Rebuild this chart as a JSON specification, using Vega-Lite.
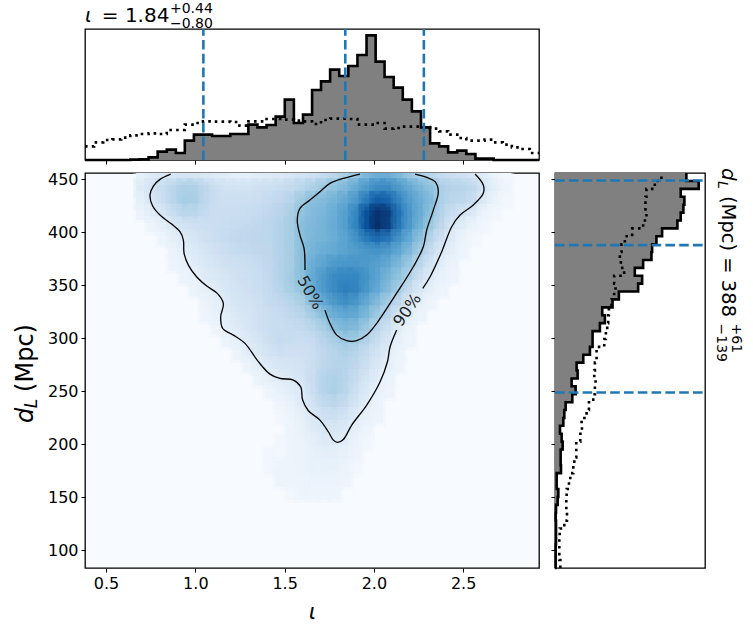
{
"$schema":"https://vega.github.io/schema/vega-lite/v6.json",
"background":"white",
"padding":{"left":13,"top":1,"right":5,"bottom":5},
"columns":2,
"bounds":"flush",
"spacing":{"row":13,"column":16},
"config":{
 "font":"DejaVu Sans",
 "view":{"stroke":"#000","strokeWidth":1.3},
 "axis":{"grid":false,"domain":false,"tickColor":"#000","tickSize":4,"tickWidth":1,"labelColor":"#000","labelFontSize":16,"labelPadding":3,"labelFlush":false,"labelFont":"DejaVu Sans","titleFont":"DejaVu Sans","titleColor":"#000"}
},
"datasets":{
"iota":[
{"i":0.382,"post":0,"prior":41},{"i":0.433,"post":0,"prior":53},{"i":0.484,"post":0,"prior":60},{"i":0.535,"post":0,"prior":62},{"i":0.585,"post":0,"prior":67},{"i":0.636,"post":1,"prior":74},{"i":0.687,"post":2,"prior":78},{"i":0.738,"post":8,"prior":80},{"i":0.789,"post":25,"prior":78},{"i":0.84,"post":31,"prior":90},{"i":0.891,"post":21,"prior":90},{"i":0.941,"post":58,"prior":106},{"i":0.992,"post":76,"prior":111},{"i":1.043,"post":76,"prior":116},{"i":1.094,"post":72,"prior":115},{"i":1.145,"post":72,"prior":115},{"i":1.196,"post":78,"prior":114},{"i":1.247,"post":78,"prior":103},{"i":1.297,"post":106,"prior":116},{"i":1.348,"post":98,"prior":116},{"i":1.399,"post":105,"prior":123},{"i":1.45,"post":130,"prior":123},{"i":1.501,"post":181,"prior":121},{"i":1.552,"post":111,"prior":118},{"i":1.603,"post":136,"prior":116},{"i":1.654,"post":210,"prior":108},{"i":1.704,"post":236,"prior":120},{"i":1.755,"post":271,"prior":124},{"i":1.806,"post":252,"prior":124},{"i":1.857,"post":282,"prior":123},{"i":1.908,"post":315,"prior":106},{"i":1.959,"post":374,"prior":106},{"i":2.01,"post":295,"prior":111},{"i":2.06,"post":249,"prior":94},{"i":2.111,"post":217,"prior":96},{"i":2.162,"post":181,"prior":100},{"i":2.213,"post":146,"prior":100},{"i":2.264,"post":98,"prior":99},{"i":2.315,"post":50,"prior":94},{"i":2.366,"post":41,"prior":86},{"i":2.416,"post":23,"prior":76},{"i":2.467,"post":28,"prior":66},{"i":2.518,"post":18,"prior":58},{"i":2.569,"post":4,"prior":58},{"i":2.62,"post":4,"prior":61},{"i":2.671,"post":0,"prior":53},{"i":2.722,"post":0,"prior":46},{"i":2.773,"post":0,"prior":38},{"i":2.823,"post":0,"prior":33},{"i":2.874,"post":0,"prior":21},{"i":2.925,"post":0,"prior":21}
],
"dist":[
{"d":83.3,"post":0,"prior":16},{"d":90.8,"post":2,"prior":16},{"d":98.2,"post":2,"prior":13},{"d":105.7,"post":2,"prior":13},{"d":113.1,"post":3,"prior":13},{"d":120.6,"post":3,"prior":14},{"d":128.0,"post":3,"prior":28},{"d":135.5,"post":2,"prior":36},{"d":142.9,"post":3,"prior":34},{"d":150.4,"post":8,"prior":34},{"d":157.9,"post":10,"prior":35},{"d":165.3,"post":5,"prior":42},{"d":172.8,"post":5,"prior":46},{"d":180.2,"post":18,"prior":55},{"d":187.7,"post":17,"prior":58},{"d":195.1,"post":17,"prior":64},{"d":202.6,"post":23,"prior":64},{"d":210.0,"post":20,"prior":76},{"d":217.5,"post":15,"prior":81},{"d":224.9,"post":25,"prior":80},{"d":232.4,"post":28,"prior":95},{"d":239.8,"post":32,"prior":102},{"d":247.3,"post":52,"prior":115},{"d":254.8,"post":62,"prior":120},{"d":262.2,"post":50,"prior":122},{"d":269.7,"post":68,"prior":118},{"d":277.1,"post":65,"prior":120},{"d":284.6,"post":85,"prior":125},{"d":292.0,"post":105,"prior":125},{"d":299.5,"post":113,"prior":148},{"d":306.9,"post":113,"prior":153},{"d":314.4,"post":135,"prior":157},{"d":321.8,"post":150,"prior":160},{"d":329.3,"post":142,"prior":162},{"d":336.8,"post":173,"prior":170},{"d":344.2,"post":192,"prior":178},{"d":351.7,"post":250,"prior":182},{"d":359.1,"post":262,"prior":178},{"d":366.6,"post":240,"prior":208},{"d":374.0,"post":265,"prior":198},{"d":381.5,"post":290,"prior":195},{"d":388.9,"post":292,"prior":200},{"d":396.4,"post":305,"prior":210},{"d":403.8,"post":322,"prior":232},{"d":411.3,"post":368,"prior":265},{"d":418.7,"post":378,"prior":275},{"d":426.2,"post":386,"prior":272},{"d":433.7,"post":389,"prior":272},{"d":441.1,"post":378,"prior":275},{"d":448.6,"post":432,"prior":300},{"d":456.1,"post":395,"prior":320}
],
"contours":[
{"s":"90a","n":1,"i":0.862,"d":455.1},{"s":"90a","n":2,"i":0.802,"d":450.1},{"s":"90a","n":3,"i":0.765,"d":443.8},{"s":"90a","n":4,"i":0.746,"d":435.3},{"s":"90a","n":5,"i":0.761,"d":424.9},{"s":"90a","n":6,"i":0.802,"d":416.4},{"s":"90a","n":7,"i":0.867,"d":407.9},{"s":"90a","n":8,"i":0.914,"d":400.7},{"s":"90a","n":9,"i":0.933,"d":392.8},{"s":"90a","n":10,"i":0.937,"d":380.2},{"s":"90a","n":11,"i":0.961,"d":369.2},{"s":"90a","n":12,"i":1.007,"d":358.2},{"s":"90a","n":13,"i":1.064,"d":349.4},{"s":"90a","n":14,"i":1.123,"d":342.5},{"s":"90a","n":15,"i":1.157,"d":333.0},{"s":"90a","n":16,"i":1.142,"d":320.4},{"s":"90a","n":17,"i":1.153,"d":309.4},{"s":"90a","n":18,"i":1.213,"d":303.1},{"s":"90a","n":19,"i":1.278,"d":295.3},{"s":"90a","n":20,"i":1.353,"d":278.0},{"s":"90a","n":21,"i":1.418,"d":266.3},{"s":"90a","n":22,"i":1.474,"d":262.2},{"s":"90a","n":23,"i":1.549,"d":260.7},{"s":"90a","n":24,"i":1.59,"d":254.4},{"s":"90a","n":25,"i":1.601,"d":241.8},{"s":"90a","n":26,"i":1.633,"d":231.7},{"s":"90a","n":27,"i":1.698,"d":222.9},{"s":"90a","n":28,"i":1.745,"d":211.9},{"s":"90a","n":29,"i":1.773,"d":204.0},{"s":"90a","n":30,"i":1.796,"d":201.8},{"s":"90a","n":31,"i":1.829,"d":204.6},{"s":"90a","n":32,"i":1.876,"d":218.2},{"s":"90a","n":33,"i":1.96,"d":237.1},{"s":"90a","n":34,"i":2.035,"d":259.1},{"s":"90a","n":35,"i":2.076,"d":278.0},{"s":"90a","n":36,"i":2.091,"d":292.1},{"s":"90a","n":37,"i":2.128,"d":307.9},
{"s":"90b","n":1,"i":2.274,"d":347.2},{"s":"90b","n":2,"i":2.315,"d":358.2},{"s":"90b","n":3,"i":2.38,"d":381.8},{"s":"90b","n":4,"i":2.436,"d":405.4},{"s":"90b","n":5,"i":2.483,"d":416.4},{"s":"90b","n":6,"i":2.557,"d":425.9},{"s":"90b","n":7,"i":2.613,"d":436.9},{"s":"90b","n":8,"i":2.613,"d":444.7},{"s":"90b","n":9,"i":2.567,"d":455.1},
{"s":"50a","n":1,"i":1.922,"d":455.1},{"s":"50a","n":2,"i":1.829,"d":451.0},{"s":"50a","n":3,"i":1.754,"d":446.3},{"s":"50a","n":4,"i":1.698,"d":438.4},{"s":"50a","n":5,"i":1.642,"d":430.6},{"s":"50a","n":6,"i":1.586,"d":422.7},{"s":"50a","n":7,"i":1.571,"d":411.7},{"s":"50a","n":8,"i":1.586,"d":397.5},{"s":"50a","n":9,"i":1.609,"d":385.0},{"s":"50a","n":10,"i":1.614,"d":364.5},
{"s":"50b","n":1,"i":1.726,"d":326.7},{"s":"50b","n":2,"i":1.754,"d":314.2},{"s":"50b","n":3,"i":1.792,"d":303.1},{"s":"50b","n":4,"i":1.848,"d":297.8},{"s":"50b","n":5,"i":1.904,"d":297.8},{"s":"50b","n":6,"i":1.96,"d":303.1},{"s":"50b","n":7,"i":2.016,"d":314.2},{"s":"50b","n":8,"i":2.109,"d":337.8},{"s":"50b","n":9,"i":2.221,"d":367.6},{"s":"50b","n":10,"i":2.277,"d":386.5},{"s":"50b","n":11,"i":2.296,"d":402.3},{"s":"50b","n":12,"i":2.333,"d":421.1},{"s":"50b","n":13,"i":2.361,"d":438.4},{"s":"50b","n":14,"i":2.343,"d":447.9},{"s":"50b","n":15,"i":2.296,"d":452.0},{"s":"50b","n":16,"i":2.231,"d":455.1}
],
"heat":[
{"i":0.7,"d":454,"v":5},{"i":0.76,"d":454,"v":8},{"i":0.82,"d":454,"v":10},{"i":0.88,"d":454,"v":11},{"i":0.94,"d":454,"v":12},{"i":1.0,"d":454,"v":12},{"i":1.06,"d":454,"v":10},{"i":1.12,"d":454,"v":8},{"i":1.18,"d":454,"v":7},{"i":1.24,"d":454,"v":6},{"i":1.3,"d":454,"v":6},{"i":1.36,"d":454,"v":7},{"i":1.42,"d":454,"v":8},{"i":1.48,"d":454,"v":9},{"i":1.54,"d":454,"v":11},{"i":1.6,"d":454,"v":13},{"i":1.66,"d":454,"v":15},{"i":1.72,"d":454,"v":18},{"i":1.78,"d":454,"v":22},{"i":1.84,"d":454,"v":28},{"i":1.9,"d":454,"v":34},{"i":1.96,"d":454,"v":42},{"i":2.02,"d":454,"v":47},{"i":2.08,"d":454,"v":47},{"i":2.14,"d":454,"v":42},{"i":2.2,"d":454,"v":34},{"i":2.26,"d":454,"v":28},{"i":2.32,"d":454,"v":22},{"i":2.38,"d":454,"v":18},{"i":2.44,"d":454,"v":16},{"i":2.5,"d":454,"v":14},{"i":2.56,"d":454,"v":11},{"i":2.62,"d":454,"v":7},{"i":2.68,"d":454,"v":4},{"i":2.74,"d":454,"v":2},
{"i":0.7,"d":442,"v":8},{"i":0.76,"d":442,"v":13},{"i":0.82,"d":442,"v":17},{"i":0.88,"d":442,"v":22},{"i":0.94,"d":442,"v":27},{"i":1.0,"d":442,"v":26},{"i":1.06,"d":442,"v":20},{"i":1.12,"d":442,"v":15},{"i":1.18,"d":442,"v":13},{"i":1.24,"d":442,"v":13},{"i":1.3,"d":442,"v":13},{"i":1.36,"d":442,"v":14},{"i":1.42,"d":442,"v":15},{"i":1.48,"d":442,"v":17},{"i":1.54,"d":442,"v":19},{"i":1.6,"d":442,"v":22},{"i":1.66,"d":442,"v":27},{"i":1.72,"d":442,"v":32},{"i":1.78,"d":442,"v":36},{"i":1.84,"d":442,"v":41},{"i":1.9,"d":442,"v":49},{"i":1.96,"d":442,"v":60},{"i":2.02,"d":442,"v":68},{"i":2.08,"d":442,"v":68},{"i":2.14,"d":442,"v":60},{"i":2.2,"d":442,"v":50},{"i":2.26,"d":442,"v":42},{"i":2.32,"d":442,"v":36},{"i":2.38,"d":442,"v":27},{"i":2.44,"d":442,"v":24},{"i":2.5,"d":442,"v":23},{"i":2.56,"d":442,"v":19},{"i":2.62,"d":442,"v":12},{"i":2.68,"d":442,"v":6},{"i":2.74,"d":442,"v":3},
{"i":0.7,"d":430,"v":6},{"i":0.76,"d":430,"v":11},{"i":0.82,"d":430,"v":16},{"i":0.88,"d":430,"v":23},{"i":0.94,"d":430,"v":29},{"i":1.0,"d":430,"v":28},{"i":1.06,"d":430,"v":21},{"i":1.12,"d":430,"v":16},{"i":1.18,"d":430,"v":15},{"i":1.24,"d":430,"v":15},{"i":1.3,"d":430,"v":15},{"i":1.36,"d":430,"v":16},{"i":1.42,"d":430,"v":18},{"i":1.48,"d":430,"v":20},{"i":1.54,"d":430,"v":24},{"i":1.6,"d":430,"v":32},{"i":1.66,"d":430,"v":38},{"i":1.72,"d":430,"v":40},{"i":1.78,"d":430,"v":44},{"i":1.84,"d":430,"v":50},{"i":1.9,"d":430,"v":60},{"i":1.96,"d":430,"v":76},{"i":2.02,"d":430,"v":86},{"i":2.08,"d":430,"v":84},{"i":2.14,"d":430,"v":72},{"i":2.2,"d":430,"v":58},{"i":2.26,"d":430,"v":47},{"i":2.32,"d":430,"v":40},{"i":2.38,"d":430,"v":27},{"i":2.44,"d":430,"v":22},{"i":2.5,"d":430,"v":21},{"i":2.56,"d":430,"v":17},{"i":2.62,"d":430,"v":9},{"i":2.68,"d":430,"v":4},{"i":2.74,"d":430,"v":2},
{"i":0.7,"d":418,"v":4},{"i":0.76,"d":418,"v":7},{"i":0.82,"d":418,"v":11},{"i":0.88,"d":418,"v":17},{"i":0.94,"d":418,"v":22},{"i":1.0,"d":418,"v":22},{"i":1.06,"d":418,"v":18},{"i":1.12,"d":418,"v":16},{"i":1.18,"d":418,"v":16},{"i":1.24,"d":418,"v":16},{"i":1.3,"d":418,"v":17},{"i":1.36,"d":418,"v":18},{"i":1.42,"d":418,"v":20},{"i":1.48,"d":418,"v":23},{"i":1.54,"d":418,"v":28},{"i":1.6,"d":418,"v":36},{"i":1.66,"d":418,"v":40},{"i":1.72,"d":418,"v":43},{"i":1.78,"d":418,"v":47},{"i":1.84,"d":418,"v":56},{"i":1.9,"d":418,"v":70},{"i":1.96,"d":418,"v":90},{"i":2.02,"d":418,"v":99},{"i":2.08,"d":418,"v":96},{"i":2.14,"d":418,"v":80},{"i":2.2,"d":418,"v":62},{"i":2.26,"d":418,"v":48},{"i":2.32,"d":418,"v":37},{"i":2.38,"d":418,"v":24},{"i":2.44,"d":418,"v":17},{"i":2.5,"d":418,"v":13},{"i":2.56,"d":418,"v":9},{"i":2.62,"d":418,"v":4},{"i":2.68,"d":418,"v":2},
{"i":0.76,"d":406,"v":3},{"i":0.82,"d":406,"v":6},{"i":0.88,"d":406,"v":10},{"i":0.94,"d":406,"v":13},{"i":1.0,"d":406,"v":14},{"i":1.06,"d":406,"v":15},{"i":1.12,"d":406,"v":16},{"i":1.18,"d":406,"v":17},{"i":1.24,"d":406,"v":18},{"i":1.3,"d":406,"v":19},{"i":1.36,"d":406,"v":20},{"i":1.42,"d":406,"v":22},{"i":1.48,"d":406,"v":25},{"i":1.54,"d":406,"v":30},{"i":1.6,"d":406,"v":38},{"i":1.66,"d":406,"v":41},{"i":1.72,"d":406,"v":44},{"i":1.78,"d":406,"v":48},{"i":1.84,"d":406,"v":57},{"i":1.9,"d":406,"v":71},{"i":1.96,"d":406,"v":90},{"i":2.02,"d":406,"v":100},{"i":2.08,"d":406,"v":95},{"i":2.14,"d":406,"v":78},{"i":2.2,"d":406,"v":60},{"i":2.26,"d":406,"v":45},{"i":2.32,"d":406,"v":32},{"i":2.38,"d":406,"v":20},{"i":2.44,"d":406,"v":11},{"i":2.5,"d":406,"v":7},{"i":2.56,"d":406,"v":4},{"i":2.62,"d":406,"v":2},
{"i":0.82,"d":394,"v":3},{"i":0.88,"d":394,"v":6},{"i":0.94,"d":394,"v":9},{"i":1.0,"d":394,"v":11},{"i":1.06,"d":394,"v":14},{"i":1.12,"d":394,"v":16},{"i":1.18,"d":394,"v":18},{"i":1.24,"d":394,"v":20},{"i":1.3,"d":394,"v":20},{"i":1.36,"d":394,"v":21},{"i":1.42,"d":394,"v":22},{"i":1.48,"d":394,"v":25},{"i":1.54,"d":394,"v":30},{"i":1.6,"d":394,"v":38},{"i":1.66,"d":394,"v":42},{"i":1.72,"d":394,"v":44},{"i":1.78,"d":394,"v":47},{"i":1.84,"d":394,"v":54},{"i":1.9,"d":394,"v":64},{"i":1.96,"d":394,"v":76},{"i":2.02,"d":394,"v":82},{"i":2.08,"d":394,"v":78},{"i":2.14,"d":394,"v":65},{"i":2.2,"d":394,"v":50},{"i":2.26,"d":394,"v":37},{"i":2.32,"d":394,"v":24},{"i":2.38,"d":394,"v":14},{"i":2.44,"d":394,"v":8},{"i":2.5,"d":394,"v":4},{"i":2.56,"d":394,"v":2},
{"i":0.88,"d":382,"v":4},{"i":0.94,"d":382,"v":7},{"i":1.0,"d":382,"v":9},{"i":1.06,"d":382,"v":12},{"i":1.12,"d":382,"v":14},{"i":1.18,"d":382,"v":16},{"i":1.24,"d":382,"v":18},{"i":1.3,"d":382,"v":19},{"i":1.36,"d":382,"v":20},{"i":1.42,"d":382,"v":21},{"i":1.48,"d":382,"v":25},{"i":1.54,"d":382,"v":30},{"i":1.6,"d":382,"v":38},{"i":1.66,"d":382,"v":44},{"i":1.72,"d":382,"v":47},{"i":1.78,"d":382,"v":50},{"i":1.84,"d":382,"v":54},{"i":1.9,"d":382,"v":58},{"i":1.96,"d":382,"v":62},{"i":2.02,"d":382,"v":64},{"i":2.08,"d":382,"v":60},{"i":2.14,"d":382,"v":52},{"i":2.2,"d":382,"v":41},{"i":2.26,"d":382,"v":30},{"i":2.32,"d":382,"v":18},{"i":2.38,"d":382,"v":10},{"i":2.44,"d":382,"v":6},{"i":2.5,"d":382,"v":3},
{"i":0.88,"d":370,"v":3},{"i":0.94,"d":370,"v":5},{"i":1.0,"d":370,"v":7},{"i":1.06,"d":370,"v":10},{"i":1.12,"d":370,"v":12},{"i":1.18,"d":370,"v":14},{"i":1.24,"d":370,"v":15},{"i":1.3,"d":370,"v":16},{"i":1.36,"d":370,"v":18},{"i":1.42,"d":370,"v":20},{"i":1.48,"d":370,"v":25},{"i":1.54,"d":370,"v":30},{"i":1.6,"d":370,"v":38},{"i":1.66,"d":370,"v":47},{"i":1.72,"d":370,"v":53},{"i":1.78,"d":370,"v":60},{"i":1.84,"d":370,"v":62},{"i":1.9,"d":370,"v":62},{"i":1.96,"d":370,"v":60},{"i":2.02,"d":370,"v":56},{"i":2.08,"d":370,"v":50},{"i":2.14,"d":370,"v":42},{"i":2.2,"d":370,"v":33},{"i":2.26,"d":370,"v":22},{"i":2.32,"d":370,"v":13},{"i":2.38,"d":370,"v":7},{"i":2.44,"d":370,"v":4},
{"i":0.94,"d":358,"v":4},{"i":1.0,"d":358,"v":5},{"i":1.06,"d":358,"v":8},{"i":1.12,"d":358,"v":10},{"i":1.18,"d":358,"v":12},{"i":1.24,"d":358,"v":14},{"i":1.3,"d":358,"v":15},{"i":1.36,"d":358,"v":17},{"i":1.42,"d":358,"v":20},{"i":1.48,"d":358,"v":25},{"i":1.54,"d":358,"v":31},{"i":1.6,"d":358,"v":38},{"i":1.66,"d":358,"v":50},{"i":1.72,"d":358,"v":60},{"i":1.78,"d":358,"v":68},{"i":1.84,"d":358,"v":70},{"i":1.9,"d":358,"v":70},{"i":1.96,"d":358,"v":64},{"i":2.02,"d":358,"v":54},{"i":2.08,"d":358,"v":44},{"i":2.14,"d":358,"v":36},{"i":2.2,"d":358,"v":26},{"i":2.26,"d":358,"v":15},{"i":2.32,"d":358,"v":9},{"i":2.38,"d":358,"v":5},{"i":2.44,"d":358,"v":3},
{"i":1.0,"d":346,"v":4},{"i":1.06,"d":346,"v":6},{"i":1.12,"d":346,"v":8},{"i":1.18,"d":346,"v":11},{"i":1.24,"d":346,"v":13},{"i":1.3,"d":346,"v":14},{"i":1.36,"d":346,"v":16},{"i":1.42,"d":346,"v":19},{"i":1.48,"d":346,"v":24},{"i":1.54,"d":346,"v":29},{"i":1.6,"d":346,"v":35},{"i":1.66,"d":346,"v":48},{"i":1.72,"d":346,"v":60},{"i":1.78,"d":346,"v":68},{"i":1.84,"d":346,"v":73},{"i":1.9,"d":346,"v":72},{"i":1.96,"d":346,"v":62},{"i":2.02,"d":346,"v":50},{"i":2.08,"d":346,"v":40},{"i":2.14,"d":346,"v":30},{"i":2.2,"d":346,"v":18},{"i":2.26,"d":346,"v":10},{"i":2.32,"d":346,"v":6},{"i":2.38,"d":346,"v":3},
{"i":1.06,"d":334,"v":4},{"i":1.12,"d":334,"v":6},{"i":1.18,"d":334,"v":9},{"i":1.24,"d":334,"v":12},{"i":1.3,"d":334,"v":13},{"i":1.36,"d":334,"v":15},{"i":1.42,"d":334,"v":18},{"i":1.48,"d":334,"v":20},{"i":1.54,"d":334,"v":24},{"i":1.6,"d":334,"v":28},{"i":1.66,"d":334,"v":40},{"i":1.72,"d":334,"v":50},{"i":1.78,"d":334,"v":60},{"i":1.84,"d":334,"v":66},{"i":1.9,"d":334,"v":62},{"i":1.96,"d":334,"v":50},{"i":2.02,"d":334,"v":40},{"i":2.08,"d":334,"v":30},{"i":2.14,"d":334,"v":20},{"i":2.2,"d":334,"v":11},{"i":2.26,"d":334,"v":6},{"i":2.32,"d":334,"v":3},
{"i":1.06,"d":322,"v":3},{"i":1.12,"d":322,"v":5},{"i":1.18,"d":322,"v":7},{"i":1.24,"d":322,"v":10},{"i":1.3,"d":322,"v":12},{"i":1.36,"d":322,"v":14},{"i":1.42,"d":322,"v":16},{"i":1.48,"d":322,"v":18},{"i":1.54,"d":322,"v":20},{"i":1.6,"d":322,"v":23},{"i":1.66,"d":322,"v":30},{"i":1.72,"d":322,"v":38},{"i":1.78,"d":322,"v":47},{"i":1.84,"d":322,"v":52},{"i":1.9,"d":322,"v":50},{"i":1.96,"d":322,"v":42},{"i":2.02,"d":322,"v":32},{"i":2.08,"d":322,"v":22},{"i":2.14,"d":322,"v":13},{"i":2.2,"d":322,"v":7},{"i":2.26,"d":322,"v":4},
{"i":1.12,"d":310,"v":3},{"i":1.18,"d":310,"v":6},{"i":1.24,"d":310,"v":8},{"i":1.3,"d":310,"v":11},{"i":1.36,"d":310,"v":14},{"i":1.42,"d":310,"v":16},{"i":1.48,"d":310,"v":17},{"i":1.54,"d":310,"v":18},{"i":1.6,"d":310,"v":19},{"i":1.66,"d":310,"v":23},{"i":1.72,"d":310,"v":29},{"i":1.78,"d":310,"v":38},{"i":1.84,"d":310,"v":42},{"i":1.9,"d":310,"v":40},{"i":1.96,"d":310,"v":33},{"i":2.02,"d":310,"v":23},{"i":2.08,"d":310,"v":15},{"i":2.14,"d":310,"v":8},{"i":2.2,"d":310,"v":4},
{"i":1.18,"d":298,"v":4},{"i":1.24,"d":298,"v":6},{"i":1.3,"d":298,"v":9},{"i":1.36,"d":298,"v":12},{"i":1.42,"d":298,"v":15},{"i":1.48,"d":298,"v":18},{"i":1.54,"d":298,"v":17},{"i":1.6,"d":298,"v":16},{"i":1.66,"d":298,"v":18},{"i":1.72,"d":298,"v":23},{"i":1.78,"d":298,"v":28},{"i":1.84,"d":298,"v":33},{"i":1.9,"d":298,"v":32},{"i":1.96,"d":298,"v":25},{"i":2.02,"d":298,"v":17},{"i":2.08,"d":298,"v":11},{"i":2.14,"d":298,"v":6},{"i":2.2,"d":298,"v":3},
{"i":1.24,"d":286,"v":4},{"i":1.3,"d":286,"v":7},{"i":1.36,"d":286,"v":10},{"i":1.42,"d":286,"v":13},{"i":1.48,"d":286,"v":15},{"i":1.54,"d":286,"v":14},{"i":1.6,"d":286,"v":14},{"i":1.66,"d":286,"v":16},{"i":1.72,"d":286,"v":20},{"i":1.78,"d":286,"v":24},{"i":1.84,"d":286,"v":26},{"i":1.9,"d":286,"v":24},{"i":1.96,"d":286,"v":18},{"i":2.02,"d":286,"v":13},{"i":2.08,"d":286,"v":8},{"i":2.14,"d":286,"v":4},
{"i":1.3,"d":274,"v":4},{"i":1.36,"d":274,"v":7},{"i":1.42,"d":274,"v":9},{"i":1.48,"d":274,"v":11},{"i":1.54,"d":274,"v":12},{"i":1.6,"d":274,"v":13},{"i":1.66,"d":274,"v":16},{"i":1.72,"d":274,"v":21},{"i":1.78,"d":274,"v":24},{"i":1.84,"d":274,"v":24},{"i":1.9,"d":274,"v":20},{"i":1.96,"d":274,"v":15},{"i":2.02,"d":274,"v":10},{"i":2.08,"d":274,"v":6},{"i":2.14,"d":274,"v":3},
{"i":1.36,"d":262,"v":4},{"i":1.42,"d":262,"v":6},{"i":1.48,"d":262,"v":8},{"i":1.54,"d":262,"v":10},{"i":1.6,"d":262,"v":12},{"i":1.66,"d":262,"v":17},{"i":1.72,"d":262,"v":24},{"i":1.78,"d":262,"v":26},{"i":1.84,"d":262,"v":24},{"i":1.9,"d":262,"v":18},{"i":1.96,"d":262,"v":12},{"i":2.02,"d":262,"v":7},{"i":2.08,"d":262,"v":4},
{"i":1.42,"d":250,"v":3},{"i":1.48,"d":250,"v":5},{"i":1.54,"d":250,"v":7},{"i":1.6,"d":250,"v":9},{"i":1.66,"d":250,"v":16},{"i":1.72,"d":250,"v":24},{"i":1.78,"d":250,"v":27},{"i":1.84,"d":250,"v":22},{"i":1.9,"d":250,"v":15},{"i":1.96,"d":250,"v":9},{"i":2.02,"d":250,"v":5},{"i":2.08,"d":250,"v":3},
{"i":1.48,"d":238,"v":3},{"i":1.54,"d":238,"v":5},{"i":1.6,"d":238,"v":8},{"i":1.66,"d":238,"v":13},{"i":1.72,"d":238,"v":19},{"i":1.78,"d":238,"v":21},{"i":1.84,"d":238,"v":18},{"i":1.9,"d":238,"v":12},{"i":1.96,"d":238,"v":7},{"i":2.02,"d":238,"v":4},
{"i":1.48,"d":226,"v":2},{"i":1.54,"d":226,"v":4},{"i":1.6,"d":226,"v":6},{"i":1.66,"d":226,"v":10},{"i":1.72,"d":226,"v":14},{"i":1.78,"d":226,"v":15},{"i":1.84,"d":226,"v":13},{"i":1.9,"d":226,"v":8},{"i":1.96,"d":226,"v":5},{"i":2.02,"d":226,"v":3},
{"i":1.54,"d":214,"v":3},{"i":1.6,"d":214,"v":5},{"i":1.66,"d":214,"v":8},{"i":1.72,"d":214,"v":10},{"i":1.78,"d":214,"v":11},{"i":1.84,"d":214,"v":9},{"i":1.9,"d":214,"v":6},{"i":1.96,"d":214,"v":3},
{"i":1.48,"d":202,"v":2},{"i":1.54,"d":202,"v":3},{"i":1.6,"d":202,"v":4},{"i":1.66,"d":202,"v":6},{"i":1.72,"d":202,"v":8},{"i":1.78,"d":202,"v":8},{"i":1.84,"d":202,"v":7},{"i":1.9,"d":202,"v":4},{"i":1.96,"d":202,"v":2},
{"i":1.42,"d":190,"v":2},{"i":1.48,"d":190,"v":2},{"i":1.54,"d":190,"v":3},{"i":1.6,"d":190,"v":4},{"i":1.66,"d":190,"v":5},{"i":1.72,"d":190,"v":6},{"i":1.78,"d":190,"v":6},{"i":1.84,"d":190,"v":5},{"i":1.9,"d":190,"v":3},
{"i":1.42,"d":178,"v":2},{"i":1.48,"d":178,"v":3},{"i":1.54,"d":178,"v":3},{"i":1.6,"d":178,"v":4},{"i":1.66,"d":178,"v":5},{"i":1.72,"d":178,"v":5},{"i":1.78,"d":178,"v":5},{"i":1.84,"d":178,"v":4},{"i":1.9,"d":178,"v":2},
{"i":1.48,"d":166,"v":3},{"i":1.54,"d":166,"v":3},{"i":1.6,"d":166,"v":3},{"i":1.66,"d":166,"v":4},{"i":1.72,"d":166,"v":4},{"i":1.78,"d":166,"v":4},{"i":1.84,"d":166,"v":3},
{"i":1.54,"d":154,"v":2},{"i":1.6,"d":154,"v":3},{"i":1.66,"d":154,"v":3},{"i":1.72,"d":154,"v":3},{"i":1.78,"d":154,"v":3}
]
},
"concat":[
{
 "width":454,"height":131,
 "encoding":{"x":{"field":"i","type":"quantitative","scale":{"domain":[0.382,2.925],"nice":false,"zero":false},"axis":{"values":[0.5,1,1.5,2,2.5],"labels":false,"title":null}}},
 "layer":[
  {"data":{"name":"iota"},"mark":{"type":"area","interpolate":"step-after","color":"#808080"},"encoding":{"y":{"field":"post","type":"quantitative","scale":{"domain":[0,393],"nice":false},"axis":null}}},
  {"data":{"name":"iota"},"mark":{"type":"line","interpolate":"step-after","color":"#000","strokeWidth":2.6},"encoding":{"y":{"field":"post","type":"quantitative","scale":{"domain":[0,393],"nice":false},"axis":null}}},
  {"data":{"name":"iota"},"mark":{"type":"line","interpolate":"step-after","color":"#000","strokeWidth":2.6,"strokeDash":[2.6,4.2]},"encoding":{"y":{"field":"prior","type":"quantitative","scale":{"domain":[0,393],"nice":false},"axis":null}}},
  {"data":{"values":[{"i":1.045},{"i":1.84},{"i":2.28}]},"mark":{"type":"rule","color":"#1f77b4","strokeWidth":2.6,"strokeDash":[9.6,4.2]},"encoding":{"y":{"datum":0,"scale":{"domain":[0,393],"nice":false},"axis":null},"y2":{"datum":393}}},
  {"data":{"values":[{"i":0.382,"v":415,"t":"ι"}]},"mark":{"type":"text","align":"left","baseline":"alphabetic","fontSize":20,"fontStyle":"italic","color":"#000"},"encoding":{"y":{"field":"v","type":"quantitative"},"text":{"field":"t"}}},
  {"data":{"values":[{"i":0.476,"v":415,"t":"= 1.84"}]},"mark":{"type":"text","align":"left","baseline":"alphabetic","fontSize":20,"color":"#000"},"encoding":{"y":{"field":"v","type":"quantitative"},"text":{"field":"t"}}},
  {"data":{"values":[{"i":0.858,"v":440,"t":"+0.44"},{"i":0.858,"v":395,"t":"−0.80"}]},"mark":{"type":"text","align":"left","baseline":"alphabetic","fontSize":14,"color":"#000"},"encoding":{"y":{"field":"v","type":"quantitative"},"text":{"field":"t"}}}
 ]
},
{"width":150,"height":131,"view":{"stroke":null},"data":{"values":[]},"mark":"point"},
{
 "width":454,"height":395,
 "view":{"fill":"#f7fbff","stroke":"#000","strokeWidth":1.3},
 "encoding":{
  "x":{"field":"i","type":"quantitative","scale":{"domain":[0.382,2.925],"nice":false,"zero":false},"axis":{"values":[0.5,1,1.5,2,2.5],"format":".1f","title":"ι","titleFontSize":22,"titleFontStyle":"italic","titleFontWeight":"normal","titlePadding":10}},
  "y":{"field":"d","type":"quantitative","scale":{"domain":[83.3,456.1],"nice":false,"zero":false},"axis":{"values":[100,150,200,250,300,350,400,450],"title":null}}
 },
 "layer":[
  {"data":{"name":"heat"},"mark":{"type":"rect","width":11.2,"height":13.2,"clip":true},"encoding":{"color":{"field":"v","type":"quantitative","legend":null,"scale":{"domain":[0,8,18,32,47,65,80,90,100],"range":["#f7fbff","#deebf7","#c6dbef","#9ecae1","#6baed6","#4292c6","#2171b5","#08519c","#08306b"]}}}},
  {"data":{"name":"heat"},"mark":{"type":"rect","width":16.5,"height":19.5,"clip":true,"opacity":0.45},"encoding":{"color":{"field":"v","type":"quantitative","legend":null,"scale":{"domain":[0,8,18,32,47,65,80,90,100],"range":["#f7fbff","#deebf7","#c6dbef","#9ecae1","#6baed6","#4292c6","#2171b5","#08519c","#08306b"]}}}},
  {"data":{"name":"contours"},"mark":{"type":"line","interpolate":"catmull-rom","color":"#000","strokeWidth":1.3,"clip":true},"encoding":{"detail":{"field":"s"},"order":{"field":"n","type":"quantitative"}}},
  {"data":{"values":[{"i":1.642,"d":343.1,"t":"50%"}]},"mark":{"type":"text","angle":60,"fontSize":16,"color":"#222"},"encoding":{"text":{"field":"t"}}},
  {"data":{"values":[{"i":2.188,"d":326.7,"t":"90%"}]},"mark":{"type":"text","angle":305,"fontSize":16,"color":"#222"},"encoding":{"text":{"field":"t"}}},
  {"data":{"values":[{"d":456.1},{"d":83.3}]},"mark":{"type":"rule","color":"#000","strokeWidth":1.3},"encoding":{"x":{"datum":0.382},"x2":{"datum":2.925}}},
  {"data":{"values":[{"i":0.382},{"i":2.925}]},"mark":{"type":"rule","color":"#000","strokeWidth":1.3},"encoding":{"y":{"datum":83.3},"y2":{"datum":456.1}}},
  {"data":{"values":[{"i":0.091,"d":220.2,"t":"d"}]},"mark":{"type":"text","angle":270,"align":"left","baseline":"alphabetic","fontSize":24,"fontStyle":"italic","color":"#000"},"encoding":{"text":{"field":"t"}}},
  {"data":{"values":[{"i":0.113,"d":234,"t":"L"}]},"mark":{"type":"text","angle":270,"align":"left","baseline":"alphabetic","fontSize":17,"fontStyle":"italic","color":"#000"},"encoding":{"text":{"field":"t"}}},
  {"data":{"values":[{"i":0.091,"d":249.5,"t":"(Mpc)"}]},"mark":{"type":"text","angle":270,"align":"left","baseline":"alphabetic","fontSize":24,"color":"#000"},"encoding":{"text":{"field":"t"}}}
 ]
},
{
 "width":150,"height":395,
 "encoding":{
  "y":{"field":"d","type":"quantitative","scale":{"domain":[83.3,456.1],"nice":false,"zero":false},"axis":{"values":[100,150,200,250,300,350,400,450],"labels":false,"title":null}}
 },
 "layer":[
  {"data":{"name":"dist"},"mark":{"type":"area","orient":"horizontal","interpolate":"step-before","color":"#808080"},"encoding":{"x":{"field":"post","type":"quantitative","scale":{"domain":[0,451],"nice":false},"axis":null}}},
  {"data":{"name":"dist"},"mark":{"type":"line","orient":"horizontal","interpolate":"step-after","color":"#000","strokeWidth":2.6},"encoding":{"x":{"field":"post","type":"quantitative","scale":{"domain":[0,451],"nice":false},"axis":null},"order":{"field":"d","type":"quantitative"}}},
  {"data":{"name":"dist"},"mark":{"type":"line","orient":"horizontal","interpolate":"step-after","color":"#000","strokeWidth":2.6,"strokeDash":[2.6,4.2]},"encoding":{"x":{"field":"prior","type":"quantitative","scale":{"domain":[0,451],"nice":false},"axis":null},"order":{"field":"d","type":"quantitative"}}},
  {"data":{"values":[{"d":449},{"d":388},{"d":249}]},"mark":{"type":"rule","color":"#1f77b4","strokeWidth":2.6,"strokeDash":[9.6,4.2]},"encoding":{"x":{"datum":0,"scale":{"domain":[0,451],"nice":false},"axis":null},"x2":{"datum":451}}},
  {"data":{"values":[{"v":502,"d":460.9,"t":"d"}]},"mark":{"type":"text","angle":90,"align":"left","baseline":"alphabetic","fontSize":20,"fontStyle":"italic","color":"#000"},"encoding":{"x":{"field":"v","type":"quantitative"},"text":{"field":"t"}}},
  {"data":{"values":[{"v":490,"d":448.6,"t":"L"}]},"mark":{"type":"text","angle":90,"align":"left","baseline":"alphabetic","fontSize":14,"fontStyle":"italic","color":"#000"},"encoding":{"x":{"field":"v","type":"quantitative"},"text":{"field":"t"}}},
  {"data":{"values":[{"v":502,"d":434.4,"t":"(Mpc) = 388"}]},"mark":{"type":"text","angle":90,"align":"left","baseline":"alphabetic","fontSize":19.5,"color":"#000"},"encoding":{"x":{"field":"v","type":"quantitative"},"text":{"field":"t"}}},
  {"data":{"values":[{"v":531,"d":314,"t":"+61"},{"v":486,"d":314,"t":"−139"}]},"mark":{"type":"text","angle":90,"align":"left","baseline":"alphabetic","fontSize":14,"color":"#000"},"encoding":{"x":{"field":"v","type":"quantitative"},"text":{"field":"t"}}}
 ]
}
]
}
